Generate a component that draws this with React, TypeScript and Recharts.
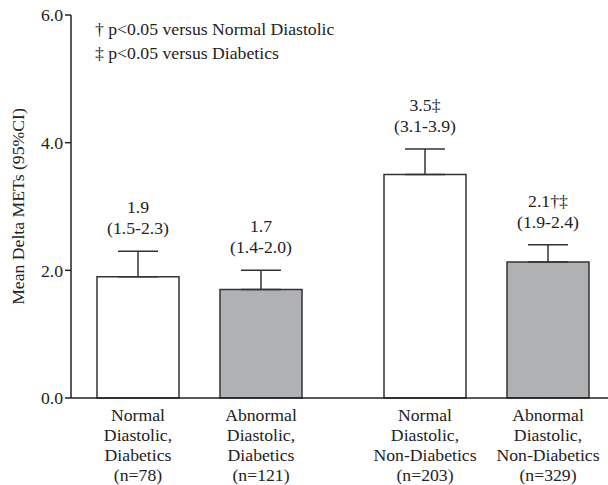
import { Bar, BarChart, ErrorBar, Label, LabelList, XAxis, YAxis } from "recharts";

const categories = ["Diabetics", "Non-Diabetics"];

const normalMean = [1.9, 3.5];
const normalLow = [1.5, 3.1];
const normalHigh = [2.3, 3.9];
const normalMarks = ["", "‡"];
const normalN = [78, 203];

const abnormalMean = [1.7, 2.13];
const abnormalLow = [1.4, 1.9];
const abnormalHigh = [2.0, 2.4];
const abnormalMarks = ["", "†‡"];
const abnormalN = [121, 329];

const yTicks = [0, 2, 4, 6];

const notes = ["† p<0.05 versus Normal Diastolic", "‡ p<0.05 versus Diabetics"];

const data = categories.map((name, i) => ({
  name,
  normal: normalMean[i],
  normalErr: [0, normalHigh[i] - normalMean[i]],
  abnormal: abnormalMean[i],
  abnormalErr: [0, abnormalHigh[i] - abnormalMean[i]],
}));

const FONT = "'Liberation Serif', 'Times New Roman', serif";
const FS = 17.7;
const INK = "#222";

const topLabel =
  (means: number[], lows: number[], highs: number[], marks: string[]) =>
  (props: any) => {
    const x = Number(props.x);
    const y = Number(props.y);
    const w = Number(props.width);
    const h = Number(props.height);
    const i = props.index;
    // pixels per unit from the bar itself, to find the whisker top
    const perUnit = h / means[i];
    const cx = x + w / 2;
    const top = y + h - highs[i] * perUnit;
    return (
      <g fontFamily={FONT} fontSize={FS} fill={INK}>
        <text x={cx} y={top - 44} textAnchor="middle" dominantBaseline="central">
          {means[i].toFixed(1) + marks[i]}
        </text>
        <text x={cx} y={top - 23} textAnchor="middle" dominantBaseline="central">
          {`(${lows[i].toFixed(1)}-${highs[i].toFixed(1)})`}
        </text>
      </g>
    );
  };

const bottomLabel = (status: string, ns: number[]) => (props: any) => {
  const x = Number(props.x);
  const y = Number(props.y);
  const w = Number(props.width);
  const h = Number(props.height);
  const i = props.index;
  const lines = [status, "Diastolic,", categories[i], `(n=${ns[i]})`];
  const base = y + h;
  return (
    <g fontFamily={FONT} fontSize={FS} fill={INK}>
      {lines.map((t, k) => (
        <text
          key={k}
          x={x + w / 2}
          y={base + 16.5 + k * 20}
          textAnchor="middle"
          dominantBaseline="central"
        >
          {t}
        </text>
      ))}
    </g>
  );
};

const YLabel = (props: any) => {
  const vb = props.viewBox || {};
  const cx = vb.x + 18;
  const cy = vb.y + vb.height / 2;
  return (
    <text
      x={cx}
      y={cy}
      transform={`rotate(-90 ${cx} ${cy})`}
      textAnchor="middle"
      dominantBaseline="central"
      fontFamily={FONT}
      fontSize={FS}
      fill={INK}
    >
      Mean Delta METs (95%CI)
    </text>
  );
};

const App = () => {
  return (
    <div style={{ position: "fixed", left: 0, top: 0, width: 608, height: 485, background: "#fff" }}>
      <BarChart
        width={608}
        height={485}
        data={data}
        margin={{ top: 15, right: 0, bottom: 0, left: 0 }}
        barSize={82}
        barGap={41}
      >
        <XAxis
          dataKey="name"
          height={87}
          padding={{ left: -15, right: -22 }}
          tick={false}
          tickLine={false}
          axisLine={{ stroke: INK, strokeWidth: 1.5 }}
        />
        <YAxis
          domain={[0, 6]}
          ticks={yTicks}
          width={71}
          tickSize={6}
          tickMargin={2}
          tickFormatter={(v: number) => v.toFixed(1)}
          tick={{ fontFamily: FONT, fontSize: FS, fill: INK }}
          tickLine={{ stroke: INK, strokeWidth: 1.5 }}
          axisLine={{ stroke: INK, strokeWidth: 1.5 }}
        >
          <Label content={YLabel} />
        </YAxis>
        <Bar dataKey="normal" fill="#ffffff" stroke="#333" strokeWidth={1.5} isAnimationActive={false}>
          <ErrorBar dataKey="normalErr" width={20} stroke="#333" strokeWidth={1.5} direction="y" isAnimationActive={false} />
          <LabelList content={topLabel(normalMean, normalLow, normalHigh, normalMarks)} />
          <LabelList content={bottomLabel("Normal", normalN)} />
        </Bar>
        <Bar dataKey="abnormal" fill="#b0b1b3" stroke="#333" strokeWidth={1.5} isAnimationActive={false}>
          <ErrorBar dataKey="abnormalErr" width={20} stroke="#333" strokeWidth={1.5} direction="y" isAnimationActive={false} />
          <LabelList content={topLabel(abnormalMean, abnormalLow, abnormalHigh, abnormalMarks)} />
          <LabelList content={bottomLabel("Abnormal", abnormalN)} />
        </Bar>
      </BarChart>
      <div
        style={{
          position: "absolute",
          left: 95,
          top: 17,
          fontFamily: FONT,
          fontSize: FS,
          lineHeight: "24px",
          color: INK,
        }}
      >
        {notes.map((n) => (
          <div key={n}>{n}</div>
        ))}
      </div>
    </div>
  );
};

export default App;
